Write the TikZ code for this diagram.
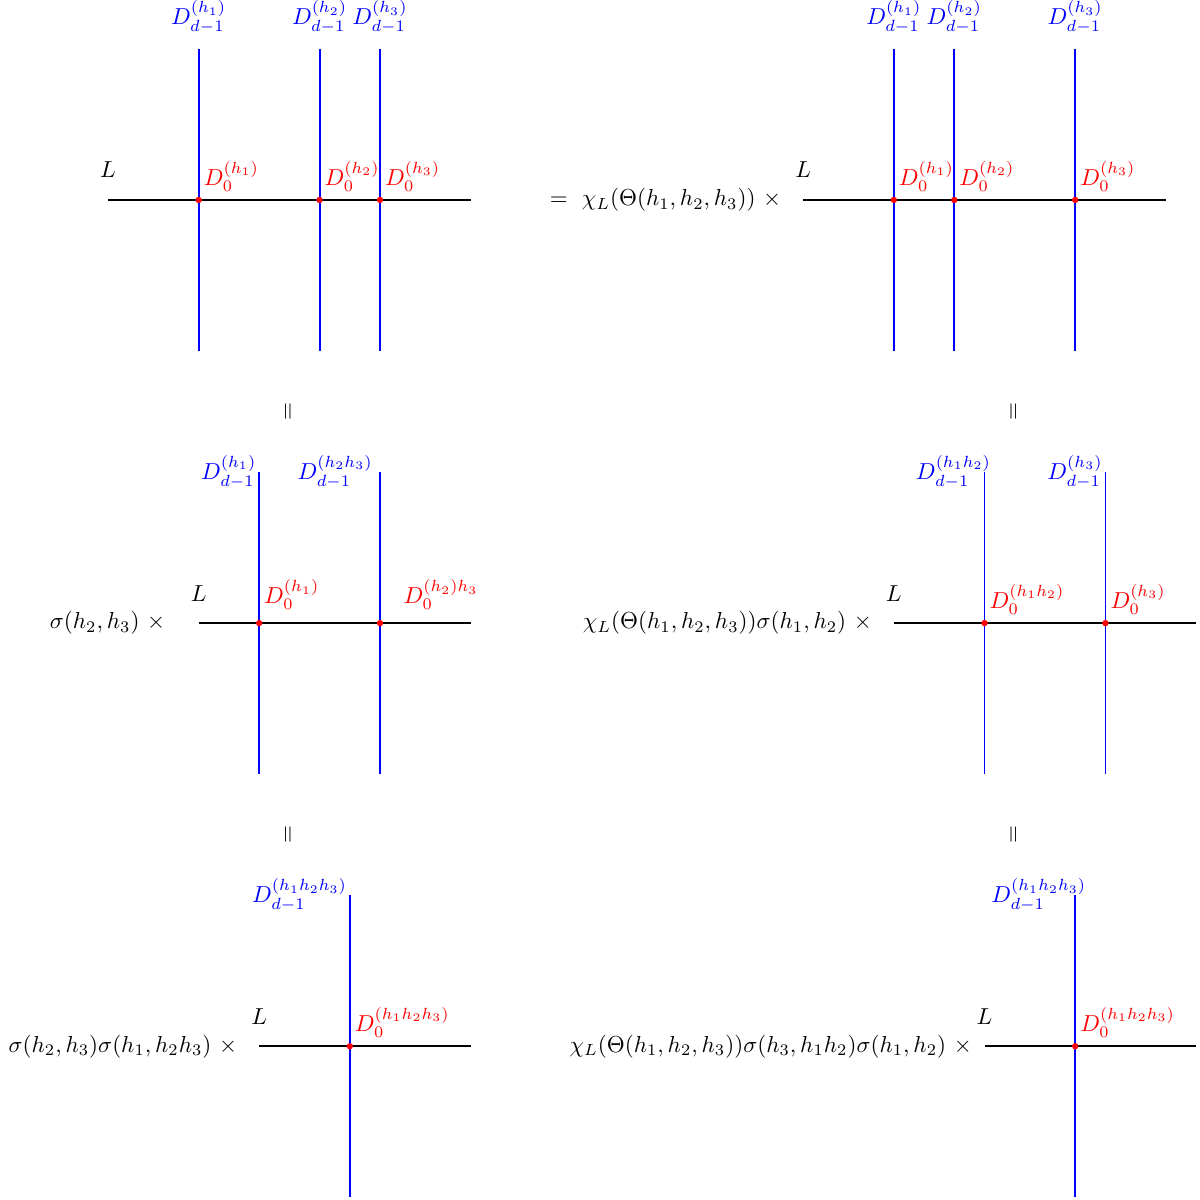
\documentclass[tikz,border=0pt]{standalone}
\usepackage{amsmath}
\usetikzlibrary{positioning}

\tikzset{
	lineL/.style={thick},
	bar/.style={blue, thick},
	dtop/.style={blue},
	dside/.style={blue, inner sep=1pt},
	dzero/.style={red, anchor=south west, inner sep=2pt, yshift=1.5pt},
}

\begin{document}
\begin{tikzpicture}[scale=0.92]

	\useasboundingbox (-1.787,3.308) rectangle (18.064,-16.543);

	% points: top left
	\coordinate (A0) at (0,0);
	\coordinate (A1) at (6,0);
	\coordinate (Ap1) at (1.5,0);
	\coordinate (Ap2) at (3.5,0);
	\coordinate (Ap3) at (4.5,0);
	\coordinate (At1) at (1.5,2.5);
	\coordinate (At2) at (3.5,2.5);
	\coordinate (At3) at (4.5,2.5);
	\coordinate (Ab1) at (1.5,-2.5);
	\coordinate (Ab2) at (3.5,-2.5);
	\coordinate (Ab3) at (4.5,-2.5);

	% points: top right
	\coordinate (B0) at (11.5,0);
	\coordinate (B1) at (17.5,0);
	\coordinate (Bp1) at (13,0);
	\coordinate (Bp2) at (14,0);
	\coordinate (Bp3) at (16,0);
	\coordinate (Bt1) at (13,2.5);
	\coordinate (Bt2) at (14,2.5);
	\coordinate (Bt3) at (16,2.5);
	\coordinate (Bb1) at (13,-2.5);
	\coordinate (Bb2) at (14,-2.5);
	\coordinate (Bb3) at (16,-2.5);

	% points: middle left
	\coordinate (C0) at (1.5,-7);
	\coordinate (C1) at (6,-7);
	\coordinate (Cp1) at (2.5,-7);
	\coordinate (Cp2) at (4.5,-7);
	\coordinate (Ct1) at (2.5,-4.5);
	\coordinate (Ct2) at (4.5,-4.5);
	\coordinate (Cb1) at (2.5,-9.5);
	\coordinate (Cb2) at (4.5,-9.5);

	% points: middle right
	\coordinate (D0) at (13,-7);
	\coordinate (D1) at (18,-7);
	\coordinate (Dp1) at (14.5,-7);
	\coordinate (Dp2) at (16.5,-7);
	\coordinate (Dt1) at (14.5,-4.5);
	\coordinate (Dt2) at (16.5,-4.5);
	\coordinate (Db1) at (14.5,-9.5);
	\coordinate (Db2) at (16.5,-9.5);

	% points: bottom
	\coordinate (E0) at (2.5,-14);
	\coordinate (E1) at (6,-14);
	\coordinate (Ep1) at (4,-14);
	\coordinate (Et1) at (4,-11.5);
	\coordinate (Eb1) at (4,-16.5);
	\coordinate (F0) at (14.5,-14);
	\coordinate (F1) at (18,-14);
	\coordinate (Fp1) at (16,-14);
	\coordinate (Ft1) at (16,-11.5);
	\coordinate (Fb1) at (16,-16.5);

	% lines L
	\draw[lineL] (A0) -- (A1);
	\draw[lineL] (B0) -- (B1);
	\draw[lineL] (C0) -- (C1);
	\draw[lineL] (D0) -- (D1);
	\draw[lineL] (E0) -- (E1);
	\draw[lineL] (F0) -- (F1);

	% walls
	\draw[bar] (At1) -- (Ab1);
	\draw[bar] (At2) -- (Ab2);
	\draw[bar] (At3) -- (Ab3);
	\draw[bar] (Bt1) -- (Bb1);
	\draw[bar] (Bt2) -- (Bb2);
	\draw[bar] (Bt3) -- (Bb3);
	\draw[bar] (Ct1) -- (Cb1);
	\draw[bar] (Ct2) -- (Cb2);
	\draw[bar] (Dt1) -- (Db1);
	\draw[bar] (Dt2) -- (Db2);
	\draw[bar] (Et1) -- (Eb1);
	\draw[bar] (Ft1) -- (Fb1);

	% crossings
	\fill[red] (Ap1) circle (1.5pt);
	\fill[red] (Ap2) circle (1.5pt);
	\fill[red] (Ap3) circle (1.5pt);
	\fill[red] (Bp1) circle (1.5pt);
	\fill[red] (Bp2) circle (1.5pt);
	\fill[red] (Bp3) circle (1.5pt);
	\fill[red] (Cp1) circle (1.5pt);
	\fill[red] (Cp2) circle (1.5pt);
	\fill[red] (Dp1) circle (1.5pt);
	\fill[red] (Dp2) circle (1.5pt);
	\fill[red] (Ep1) circle (1.5pt);
	\fill[red] (Fp1) circle (1.5pt);

	% L labels
	\node[above=6pt of A0] (AL) {$L$};
	\node[above=6pt of B0] (BL) {$L$};
	\node[above=6pt of C0] (CL) {$L$};
	\node[above=6pt of D0] (DL) {$L$};
	\node[above=6pt of E0] (EL) {$L$};
	\node[above=6pt of F0] (FL) {$L$};

	% factors
	\node[left=6pt of B0] (Bf) {$=\ \chi_L(\Theta(h_1,h_2,h_3))\ \times$};
	\node[left=11pt of C0] (Cf) {$\sigma(h_2,h_3)\ \times$};
	\node[left=6pt of D0] (Df) {$\chi_L(\Theta(h_1,h_2,h_3))\sigma(h_1,h_2)\ \times$};
	\node[left=6pt of E0] (Ef) {$\sigma(h_2,h_3)\sigma(h_1,h_2h_3)\ \times$};
	\node[left=2pt of F0] (Ff) {$\chi_L(\Theta(h_1,h_2,h_3))\sigma(h_3,h_1h_2)\sigma(h_1,h_2)\ \times$};

	% equal signs
	\node (eq1) at (3,-3.5) {\rotatebox{90}{$=$}};
	\node (eq2) at (15,-3.5) {\rotatebox{90}{$=$}};
	\node (eq3) at (3,-10.5) {\rotatebox{90}{$=$}};
	\node (eq4) at (15,-10.5) {\rotatebox{90}{$=$}};

	% wall labels
	\node[dtop, above=3pt of At1] (Al1) {$D_{d-1}^{(h_1)}$};
	\node[dtop, above=3pt of At2] (Al2) {$D_{d-1}^{(h_2)}$};
	\node[dtop, above=3pt of At3] (Al3) {$D_{d-1}^{(h_3)}$};
	\node[dtop, above=3pt of Bt1] (Bl1) {$D_{d-1}^{(h_1)}$};
	\node[dtop, above=3pt of Bt2] (Bl2) {$D_{d-1}^{(h_2)}$};
	\node[dtop, above=3pt of Bt3] (Bl3) {$D_{d-1}^{(h_3)}$};
	\node[dside, left=0pt of Ct1] (Cl1) {$D_{d-1}^{(h_1)}$};
	\node[dside, left=2pt of Ct2] (Cl2) {$D_{d-1}^{(h_2h_3)}$};
	\node[dside, left=-4pt of Dt1] (Dl1) {$D_{d-1}^{(h_1h_2)}$};
	\node[dside, left=0pt of Dt2] (Dl2) {$D_{d-1}^{(h_3)}$};
	\node[dside, left=0pt of Et1] (El1) {$D_{d-1}^{(h_1h_2h_3)}$};
	\node[dside, left=-6pt of Ft1] (Fl1) {$D_{d-1}^{(h_1h_2h_3)}$};

	% crossing labels
	\node[dzero] (Az1) at (Ap1) {$D_0^{(h_1)}$};
	\node[dzero] (Az2) at (Ap2) {$D_0^{(h_2)}$};
	\node[dzero] (Az3) at (Ap3) {$D_0^{(h_3)}$};
	\node[dzero] (Bz1) at (Bp1) {$D_0^{(h_1)}$};
	\node[dzero] (Bz2) at (Bp2) {$D_0^{(h_2)}$};
	\node[dzero] (Bz3) at (Bp3) {$D_0^{(h_3)}$};
	\node[dzero, yshift=2pt] (Cz1) at (Cp1) {$D_0^{(h_1)}$};
	\node[dzero, yshift=2pt, xshift=8pt] (Cz2) at (Cp2) {$D_0^{(h_2)h_3}$};
	\node[dzero] (Dz1) at (Dp1) {$D_0^{(h_1h_2)}$};
	\node[dzero] (Dz2) at (Dp2) {$D_0^{(h_3)}$};
	\node[dzero] (Ez1) at (Ep1) {$D_0^{(h_1h_2h_3)}$};
	\node[dzero] (Fz1) at (Fp1) {$D_0^{(h_1h_2h_3)}$};

\end{tikzpicture}
\end{document}
